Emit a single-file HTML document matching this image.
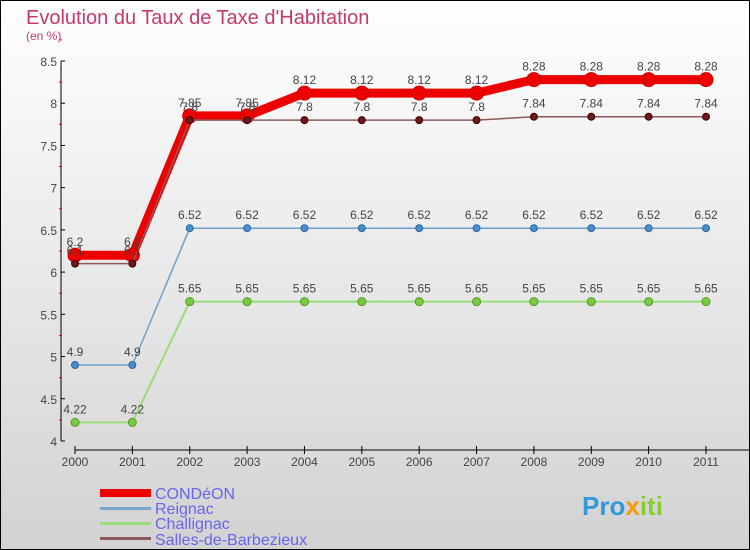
<!DOCTYPE html>
<html><head><meta charset="utf-8"><style>
body{margin:0}
svg{display:block;font-family:"Liberation Sans",sans-serif}
</style></head><body>
<svg width="750" height="550" xmlns="http://www.w3.org/2000/svg">
<defs><linearGradient id="bg" x1="0" y1="0" x2="0" y2="1"><stop offset="0" stop-color="#ffffff"/><stop offset="1" stop-color="#d2d2d2"/></linearGradient></defs>
<rect x="0.5" y="0.5" width="749" height="549" fill="url(#bg)" stroke="#000"/>
<text x="26" y="24" font-size="20" fill="#c8386a">Evolution du Taux de Taxe d'Habitation</text>
<text x="26" y="40" font-size="12" fill="#c8386a">(en %)</text>
<g id="axes"></g>
<g id="series"></g>
<g id="legend">
<rect x="100" y="489" width="51" height="8" fill="#ee0000"/>
<text x="155" y="499" font-size="16" fill="#6666ee">CONDéON</text>
<rect x="100" y="507" width="51" height="3" fill="#7aa8cc"/>
<text x="155" y="514" font-size="16" fill="#6666ee">Reignac</text>
<rect x="100" y="522" width="51" height="3" fill="#99dd77"/>
<text x="155" y="529" font-size="16" fill="#6666ee">Challignac</text>
<rect x="100" y="537" width="51" height="3" fill="#8a5a5a"/>
<text x="155" y="545" font-size="16" fill="#6666ee">Salles-de-Barbezieux</text>
</g>
<text x="582" y="515" font-size="26" font-weight="bold" fill="#3399dd">Pro<tspan fill="#ff9900">x</tspan><tspan fill="#88cc33">iti</tspan></text>
</svg>
<script>
const years=[2000,2001,2002,2003,2004,2005,2006,2007,2008,2009,2010,2011];
const yTicks=[4,4.5,5,5.5,6,6.5,7,7.5,8,8.5];
const condeon=[6.2,6.2,7.85,7.85,8.12,8.12,8.12,8.12,8.28,8.28,8.28,8.28];
const reignac=[4.9,4.9,6.52,6.52,6.52,6.52,6.52,6.52,6.52,6.52,6.52,6.52];
const challignac=[4.22,4.22,5.65,5.65,5.65,5.65,5.65,5.65,5.65,5.65,5.65,5.65];
const salles=[6.1,6.1,7.8,7.8,7.8,7.8,7.8,7.8,7.84,7.84,7.84,7.84];
const NS="http://www.w3.org/2000/svg";
const xs=i=>75+i*(706-75)/(years.length-1);
const ys=v=>441-(v-4)*(441-61)/4.5;
function mk(t,a,p){const e=document.createElementNS(NS,t);for(const k in a)e.setAttribute(k,a[k]);p.appendChild(e);return e;}
const ax=document.getElementById('axes');
let l=mk('line',{x1:61,y1:61,x2:61,y2:441,stroke:'#000'},ax);


yTicks.forEach(v=>{
 mk('line',{x1:61,y1:ys(v),x2:65,y2:ys(v),stroke:'#000'},ax);
 mk('line',{x1:59,y1:ys(v+0.25),x2:62,y2:ys(v+0.25),stroke:'#e00'},ax);
 const t=mk('text',{x:57,y:ys(v)+5,'text-anchor':'end','font-size':12,fill:'#444'},ax);t.textContent=v;
 
 
});
l=mk('line',{x1:75,y1:450,x2:750,y2:450,stroke:'#000'},ax);


years.forEach((y,i)=>{
 mk('line',{x1:xs(i),y1:446,x2:xs(i),y2:454,stroke:'#000'},ax);
 const t=mk('text',{x:xs(i),y:466,'text-anchor':'middle','font-size':12,fill:'#444'},ax);t.textContent=y;
 
 
});
const sg=document.getElementById('series');
function draw(data,name,color,w,r,fill,stroke){
 const g=mk('g',{},sg);
 
 
 const p=mk('polyline',{points:data.map((v,i)=>xs(i)+','+ys(v)).join(' '),fill:'none',stroke:color,'stroke-width':w,'stroke-linejoin':'round'},g);
 
 
 data.forEach((v,i)=>{
  const c=mk('circle',{cx:xs(i),cy:ys(v),r:r,fill:fill,stroke:stroke},g);
  
  
  const t=mk('text',{x:xs(i),y:ys(v)-9,'text-anchor':'middle','font-size':12,fill:'#444'},g);t.textContent=v;
  
  
 });
}
draw(challignac,'challignac','#99dd77',2,4,'#77cc44','#559922');
draw(reignac,'reignac','#6fa0cc',1.5,3.5,'#4a8ccc','#2a6aa0');
draw(condeon,'condeon','#ee0000',9,7,'#ee0000','#cc0000');
draw(salles,'salles','#8a5a5a',1.5,3.5,'#6a1a1a','#400');
</script>
</body></html>
